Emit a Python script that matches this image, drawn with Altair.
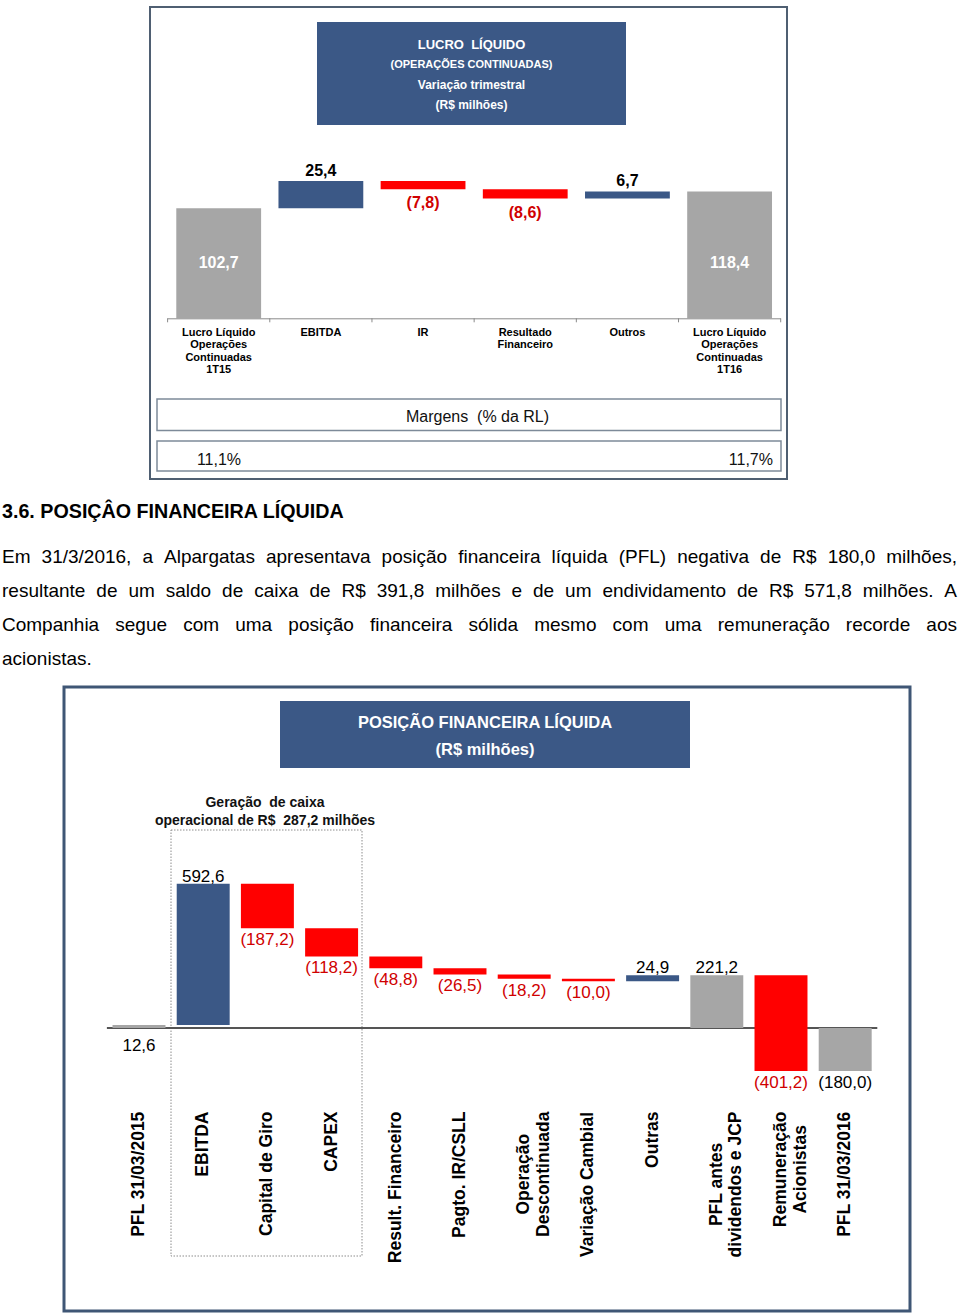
import altair as alt
import pandas as pd

FONT = "Liberation Sans"
BLUE = "#3b5886"
RED = "#ff0000"
GRAY = "#a6a6a6"
LRED = "#d00000"

# ---------------- chart 1 data ----------------
c1_keys = ["LL1T15", "EBITDA", "IR", "ResFin", "Outros", "LL1T16"]
c1_names = ["Lucro Líquido\nOperações\nContinuadas\n1T15", "EBITDA", "IR",
            "Resultado\nFinanceiro", "Outros",
            "Lucro Líquido\nOperações\nContinuadas\n1T16"]
c1_values = [102.7, 25.4, -7.8, -8.6, 6.7, 118.4]
c1_total = [True, False, False, False, False, True]
c1_text = ["102,7", "25,4", "(7,8)", "(8,6)", "6,7", "118,4"]
c1_margins = ["11,1%", "11,7%"]

# ---------------- chart 2 data ----------------
c2_keys = ["PFL15", "EBITDA", "CapGiro", "CAPEX", "ResFin", "IRCSLL", "OpDesc",
           "VarCamb", "Outras", "PFLantes", "Remun", "PFL16"]
c2_names = ["PFL 31/03/2015", "EBITDA", "Capital de Giro", "CAPEX",
            "Result. Financeiro", "Pagto. IR/CSLL", "Operação\nDescontinuada",
            "Variação Cambial", "Outras", "PFL antes\ndividendos e JCP",
            "Remuneração\nAcionistas", "PFL 31/03/2016"]
c2_values = [12.6, 592.6, -187.2, -118.2, -48.8, -26.5, -18.2, -10.0, 24.9,
             221.2, -401.2, -180.0]
c2_total = [True, False, False, False, False, False, False, False, False,
            True, False, True]
c2_text = ["12,6", "592,6", "(187,2)", "(118,2)", "(48,8)", "(26,5)", "(18,2)",
           "(10,0)", "24,9", "221,2", "(401,2)", "(180,0)"]

heading = "3.6. POSIÇÂO FINANCEIRA LÍQUIDA"
para_lines = [
    "Em 31/3/2016, a Alpargatas apresentava posição financeira líquida (PFL) negativa de R$ 180,0 milhões,",
    "resultante de um saldo de caixa de R$ 391,8 milhões e de um endividamento de R$ 571,8 milhões. A",
    "Companhia segue com uma posição financeira sólida mesmo com uma remuneração recorde aos",
    "acionistas.",
]

# --------------- Arial-compatible advance widths (per 1000 em) ---------------
REG = {' ': 278, ',': 278, '.': 278, '/': 278, '(': 333, ')': 333, '$': 556, '%': 889,
       'A': 667, 'B': 667, 'C': 722, 'D': 722, 'E': 667, 'F': 611, 'G': 778, 'H': 722,
       'I': 278, 'J': 500, 'K': 667, 'L': 556, 'M': 833, 'N': 722, 'O': 778, 'P': 667,
       'Q': 778, 'R': 722, 'S': 667, 'T': 611, 'U': 722, 'V': 667, 'W': 944, 'X': 667,
       'Y': 667, 'Z': 611,
       'a': 556, 'b': 556, 'c': 500, 'd': 556, 'e': 556, 'f': 278, 'g': 556, 'h': 556,
       'i': 222, 'j': 222, 'k': 500, 'l': 222, 'm': 833, 'n': 556, 'o': 556, 'p': 556,
       'q': 556, 'r': 333, 's': 500, 't': 278, 'u': 556, 'v': 500, 'w': 722, 'x': 500,
       'y': 500, 'z': 500, 'í': 278, 'ó': 556, 'ç': 500, 'ã': 556, 'õ': 556, 'é': 556,
       'á': 556, 'â': 556}
BOLD = {' ': 278, ',': 278, '.': 278, '/': 278, '(': 333, ')': 333, '$': 556, '%': 889,
        'A': 722, 'B': 722, 'C': 722, 'D': 722, 'E': 667, 'F': 611, 'G': 778, 'H': 722,
        'I': 278, 'J': 556, 'K': 722, 'L': 611, 'M': 833, 'N': 722, 'O': 778, 'P': 667,
        'Q': 778, 'R': 722, 'S': 667, 'T': 611, 'U': 722, 'V': 667, 'W': 944, 'X': 667,
        'Y': 667, 'Z': 611,
        'a': 556, 'b': 611, 'c': 556, 'd': 611, 'e': 556, 'f': 333, 'g': 611, 'h': 611,
        'i': 278, 'j': 278, 'k': 556, 'l': 278, 'm': 889, 'n': 611, 'o': 611, 'p': 611,
        'q': 611, 'r': 389, 's': 556, 't': 333, 'u': 611, 'v': 556, 'w': 778, 'x': 556,
        'y': 556, 'z': 500, 'í': 278, 'ó': 611, 'ç': 556, 'ã': 556, 'õ': 611, 'Í': 278,
        'Ç': 722, 'Â': 722, 'Ã': 722}


def text_w(s, size, bold=False):
    t = BOLD if bold else REG
    return sum(t.get(ch, 556) for ch in s) * size / 1000.0


def waterfall(keys, names, values, totals, texts):
    rows, cum = [], 0.0
    for k, n, v, t, tx in zip(keys, names, values, totals, texts):
        if t:
            lo, hi = 0.0, v
            cum = v
        else:
            lo, hi = cum, cum + v
            cum += v
        kind = "total" if t else ("up" if v >= 0 else "down")
        rows.append(dict(cat=k, name=n, start=lo, end=hi, top=max(lo, hi),
                         bottom=min(lo, hi), mid=(lo + hi) / 2, kind=kind,
                         value=v, label=tx))
    return pd.DataFrame(rows)


df1 = waterfall(c1_keys, c1_names, c1_values, c1_total, c1_text)
df2 = waterfall(c2_keys, c2_names, c2_values, c2_total, c2_text)

one = pd.DataFrame({"k": [0]})
color_scale = alt.Scale(domain=["total", "up", "down"], range=[GRAY, BLUE, RED])


def box(x0, x1, y0, y1, fill=None, stroke=None, sw=1, dash=None):
    kw = dict(strokeWidth=sw)
    if fill:
        kw["fill"] = fill
    else:
        kw["fillOpacity"] = 0
        kw["fill"] = "white"
    if stroke:
        kw["stroke"] = stroke
    if dash:
        kw["strokeDash"] = dash
    return alt.Chart(one).mark_rect(**kw).encode(
        x=alt.value(x0), x2=alt.value(x1), y=alt.value(y0), y2=alt.value(y1))


def label(txt, x, y, size, bold=False, color="black", align="center"):
    return alt.Chart(one).mark_text(
        text=txt, font=FONT, fontSize=size, fontWeight="bold" if bold else "normal",
        color=color, align=align, baseline="alphabetic").encode(
        x=alt.value(x), y=alt.value(y))


layers = []

# ================= CHART 1 =================
X1_R = [167.6, 780.7]
x1 = alt.Scale(domain=c1_keys, range=X1_R, paddingInner=0.17, paddingOuter=0.085)
Y1_ZERO, Y1_PX = 318.3, 1.072
y1 = alt.Scale(domain=[0, 130], range=[Y1_ZERO, Y1_ZERO - 130 * Y1_PX],
               nice=False, zero=False)

layers.append(box(150, 787, 7, 479, stroke="#4f5f72", sw=2))
layers.append(box(317, 626, 22, 125, fill=BLUE))
layers.append(label("LUCRO\u00a0\u00a0LÍQUIDO", 471.5, 49, 13, True, "white"))
layers.append(label("(OPERAÇÕES CONTINUADAS)", 471.5, 68, 11, True, "white"))
layers.append(label("Variação trimestral", 471.5, 88.5, 12, True, "white"))
layers.append(label("(R$ milhões)", 471.5, 108.5, 12, True, "white"))

layers.append(alt.Chart(df1).mark_bar().encode(
    x=alt.X("cat:N", scale=x1, axis=None, sort=None),
    y=alt.Y("start:Q", scale=y1, axis=None),
    y2="end:Q",
    color=alt.Color("kind:N", scale=color_scale, legend=None)))

# axis line + ticks
layers.append(alt.Chart(one).mark_rule(color="#8a8a8a", strokeWidth=1).encode(
    x=alt.value(X1_R[0]), x2=alt.value(X1_R[1]), y=alt.value(Y1_ZERO + 0.5)))
step1 = (X1_R[1] - X1_R[0]) / len(c1_keys)
ticks1 = pd.DataFrame({"bx": [X1_R[0] + i * step1 for i in range(len(c1_keys) + 1)]})
layers.append(alt.Chart(ticks1).mark_rule(color="#8a8a8a", strokeWidth=1).encode(
    x=alt.X("bx:Q", scale=None), y=alt.value(Y1_ZERO), y2=alt.value(Y1_ZERO + 4)))

# value labels (totals drawn inside the bars at a common height)
layers.append(alt.Chart(df1).transform_filter("datum.kind == 'total'").mark_text(
    font=FONT, fontSize=16, fontWeight="bold", color="white", baseline="middle").encode(
    x=alt.X("cat:N", scale=x1, axis=None, sort=None),
    y=alt.value(262.5), text="label:N"))
layers.append(alt.Chart(df1).transform_filter("datum.kind == 'up'").mark_text(
    font=FONT, fontSize=16, fontWeight="bold", color="black", baseline="alphabetic",
    dy=-5).encode(
    x=alt.X("cat:N", scale=x1, axis=None, sort=None),
    y=alt.Y("top:Q", scale=y1, axis=None), text="label:N"))
layers.append(alt.Chart(df1).transform_filter("datum.kind == 'down'").mark_text(
    font=FONT, fontSize=16, fontWeight="bold", color=LRED, baseline="top",
    dy=6).encode(
    x=alt.X("cat:N", scale=x1, axis=None, sort=None),
    y=alt.Y("bottom:Q", scale=y1, axis=None), text="label:N"))

# category labels
layers.append(alt.Chart(df1).mark_text(
    font=FONT, fontSize=11, fontWeight="bold", color="black", baseline="top",
    align="center", lineBreak="\n", lineHeight=12.4).encode(
    x=alt.X("cat:N", scale=x1, axis=None, sort=None),
    y=alt.value(327), text="name:N"))

# margins boxes
layers.append(box(157, 781, 399, 430.5, stroke="#7d8a99", sw=1.5))
layers.append(box(157, 781, 441, 471, stroke="#7d8a99", sw=1.5))
layers.append(label("Margens\u00a0 (% da RL)", 477.5, 422, 16, False, "#111111"))
layers.append(label(c1_margins[0], 219, 464.5, 16, False, "#111111"))
layers.append(label(c1_margins[1], 773, 464.5, 16, False, "#111111", align="right"))

# ================= TEXT =================
layers.append(label(heading, 2, 518, 19.7, True, "black", align="left"))
PSIZE = 19
PX0, PX1 = 2, 957
rows = []
for i, line in enumerate(para_lines):
    words = line.split(" ")
    y = 563 + i * 34
    ww = [text_w(w, PSIZE) for w in words]
    if i < len(para_lines) - 1 and len(words) > 1:
        gap = (PX1 - PX0 - sum(ww)) / (len(words) - 1)
    else:
        gap = text_w(" ", PSIZE)
    x = PX0
    for w, wv in zip(words, ww):
        rows.append(dict(w=w, x=x, y=y))
        x += wv + gap
para_df = pd.DataFrame(rows)
layers.append(alt.Chart(para_df).mark_text(
    font=FONT, fontSize=PSIZE, color="black", align="left", baseline="alphabetic").encode(
    x=alt.X("x:Q", scale=None), y=alt.Y("y:Q", scale=None), text="w:N"))

# ================= CHART 2 =================
X2_R = [106.9, 877.3]
x2 = alt.Scale(domain=c2_keys, range=X2_R, paddingInner=0.175, paddingOuter=0.0875)
Y2_ZERO, Y2_PX = 1028.0, 0.2385
y2 = alt.Scale(domain=[-200, 650], range=[Y2_ZERO + 200 * Y2_PX, Y2_ZERO - 650 * Y2_PX],
               nice=False, zero=False)

layers.append(box(64, 910, 687, 1311, stroke="#3f5675", sw=3))
layers.append(box(280, 690, 701, 768, fill=BLUE))
layers.append(label("POSIÇÃO FINANCEIRA LÍQUIDA", 485, 728, 16.5, True, "white"))
layers.append(label("(R$ milhões)", 485, 755, 16.5, True, "white"))

layers.append(box(171, 362, 830, 1256, stroke="#8c8c8c", sw=1, dash=[1.5, 1.5]))
layers.append(label("Geração\u00a0 de caixa", 265, 807, 14, True, "#111111"))
layers.append(label("operacional de R$\u00a0 287,2 milhões", 265, 825, 14, True, "#111111"))

layers.append(alt.Chart(one).mark_rule(color="#555555", strokeWidth=2).encode(
    x=alt.value(X2_R[0]), x2=alt.value(X2_R[1]), y=alt.value(Y2_ZERO)))

layers.append(alt.Chart(df2).mark_bar().encode(
    x=alt.X("cat:N", scale=x2, axis=None, sort=None),
    y=alt.Y("start:Q", scale=y2, axis=None),
    y2="end:Q",
    color=alt.Color("kind:N", scale=color_scale, legend=None)))

small_total = "datum.kind == 'total' && abs(datum.value) < 20"
layers.append(alt.Chart(df2).transform_filter(
    f"(datum.kind == 'up' || (datum.kind == 'total' && datum.value >= 0)) && !({small_total})"
).mark_text(font=FONT, fontSize=17, color="black", baseline="alphabetic", dy=-2).encode(
    x=alt.X("cat:N", scale=x2, axis=None, sort=None),
    y=alt.Y("top:Q", scale=y2, axis=None), text="label:N"))
layers.append(alt.Chart(df2).transform_filter(small_total).mark_text(
    font=FONT, fontSize=17, color="black", baseline="top", dy=10).encode(
    x=alt.X("cat:N", scale=x2, axis=None, sort=None),
    y=alt.Y("bottom:Q", scale=y2, axis=None), text="label:N"))
layers.append(alt.Chart(df2).transform_filter(
    "datum.kind == 'down' || (datum.kind == 'total' && datum.value < 0)").mark_text(
    font=FONT, fontSize=17, baseline="top", dy=4).encode(
    x=alt.X("cat:N", scale=x2, axis=None, sort=None),
    y=alt.Y("bottom:Q", scale=y2, axis=None), text="label:N",
    color=alt.Color("kind:N", scale=alt.Scale(domain=["down", "total"], range=[LRED, "black"]),
                    legend=None)))

# rotated category labels: longest line starts near y=1111 and lines centred
LSIZE = 17.5
df2["ly"] = [1111.5 + max(text_w(s, LSIZE, True) for s in n.split("\n")) / 2 for n in df2["name"]]
layers.append(alt.Chart(df2).mark_text(
    font=FONT, fontSize=LSIZE, fontWeight="bold", color="black", angle=270,
    align="center", baseline="middle", lineBreak="\n", lineHeight=19.5).encode(
    x=alt.X("cat:N", scale=x2, axis=None, sort=None),
    y=alt.Y("ly:Q", scale=None), text="name:N"))

chart = alt.layer(*layers).resolve_scale(
    x="independent", y="independent", color="independent"
).properties(
    width=960, height=1313, autosize=alt.AutoSizeParams(type="none"), padding=0,
    background="white"
).configure_view(stroke=None)

chart.save("out.html", embed_options={"renderer": "svg", "actions": False})
